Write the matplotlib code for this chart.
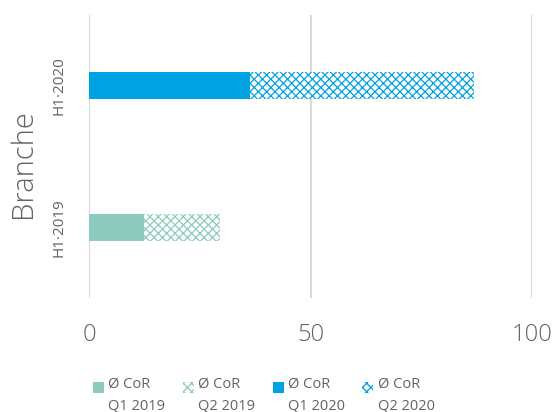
import numpy as np
import matplotlib.pyplot as plt
from matplotlib.patches import Rectangle
from matplotlib.legend_handler import HandlerBase

plt.rcParams['font.family'] = ['Open Sans', 'DejaVu Sans']
plt.rcParams['hatch.linewidth'] = 0.9

# data
periods = ['H1·2019', 'H1·2020']
q1 = [12.4, 36.3]
q2 = [17.1, 50.6]
labels = ['Ø CoR\nQ1 2019', 'Ø CoR\nQ2 2019', 'Ø CoR\nQ1 2020', 'Ø CoR\nQ2 2020']
teal = '#8ccbbd'
blue = '#00a3e1'
grey = '#636363'
colors = [teal, blue]


class TopSquare(HandlerBase):
	# legend marker sitting next to the first line of a two line label
	def legend_artist(self, legend, orig_handle, fontsize, handlebox):
		s = 0.75 * fontsize
		fc, ec, hatch = orig_handle
		r = Rectangle((0, handlebox.height - handlebox.ydescent - s), s, s,
			facecolor=fc, edgecolor=ec, hatch=hatch, linewidth=0,
			transform=handlebox.get_transform())
		handlebox.add_artist(r)
		return r


fig = plt.figure(figsize=(5.54, 4.12), dpi=100)
ax = fig.add_axes([89/554, 1 - 298/412, (532-89)/554, (298-15)/412])

y = np.arange(len(periods))
h = 0.19
for i in range(len(periods)):
	ax.barh(y[i], q1[i], height=h, color=colors[i], linewidth=0, zorder=3)
	ax.barh(y[i], q2[i], left=q1[i], height=h, facecolor='white', edgecolor=colors[i],
		hatch='xxxx', linewidth=0, zorder=3)

ax.set_xlim(0, 100)
ax.set_ylim(-0.5, 1.5)
ax.set_xticks([0, 50, 100])
ax.set_yticks(y)
ax.set_yticklabels(periods, rotation=90, va='center', fontsize=11, color=grey)
ax.tick_params(axis='x', labelsize=17, colors=grey, length=0, pad=18)
ax.tick_params(axis='y', length=0, pad=16)
for t in ax.get_xticklabels():
	t.set_fontweight('light')
ax.grid(axis='x', color='#d9d9d9', linewidth=1.5, zorder=0)
for s in ['top', 'right', 'bottom', 'left']:
	ax.spines[s].set_visible(False)
fig.text(23/554, 1 - 164/412, 'Branche', rotation=90, ha='center', va='center',
	fontsize=21, color=grey, fontweight='light')

handles = [(teal, 'none', None), ('white', teal, 'xxxx'),
	(blue, 'none', None), ('white', blue, 'xxxx')]
leg = fig.legend(handles, labels, handler_map={tuple: TopSquare()}, loc='lower left',
	bbox_to_anchor=(93/554, -1/412), ncol=4, frameon=False, fontsize=10.5,
	labelcolor=grey, handlelength=0.75, handleheight=2.6, handletextpad=0.3,
	columnspacing=1.2, borderpad=0, borderaxespad=0)
for t in leg.get_texts():
	t.set_linespacing(1.6)

fig.savefig('out.png', dpi=100)
